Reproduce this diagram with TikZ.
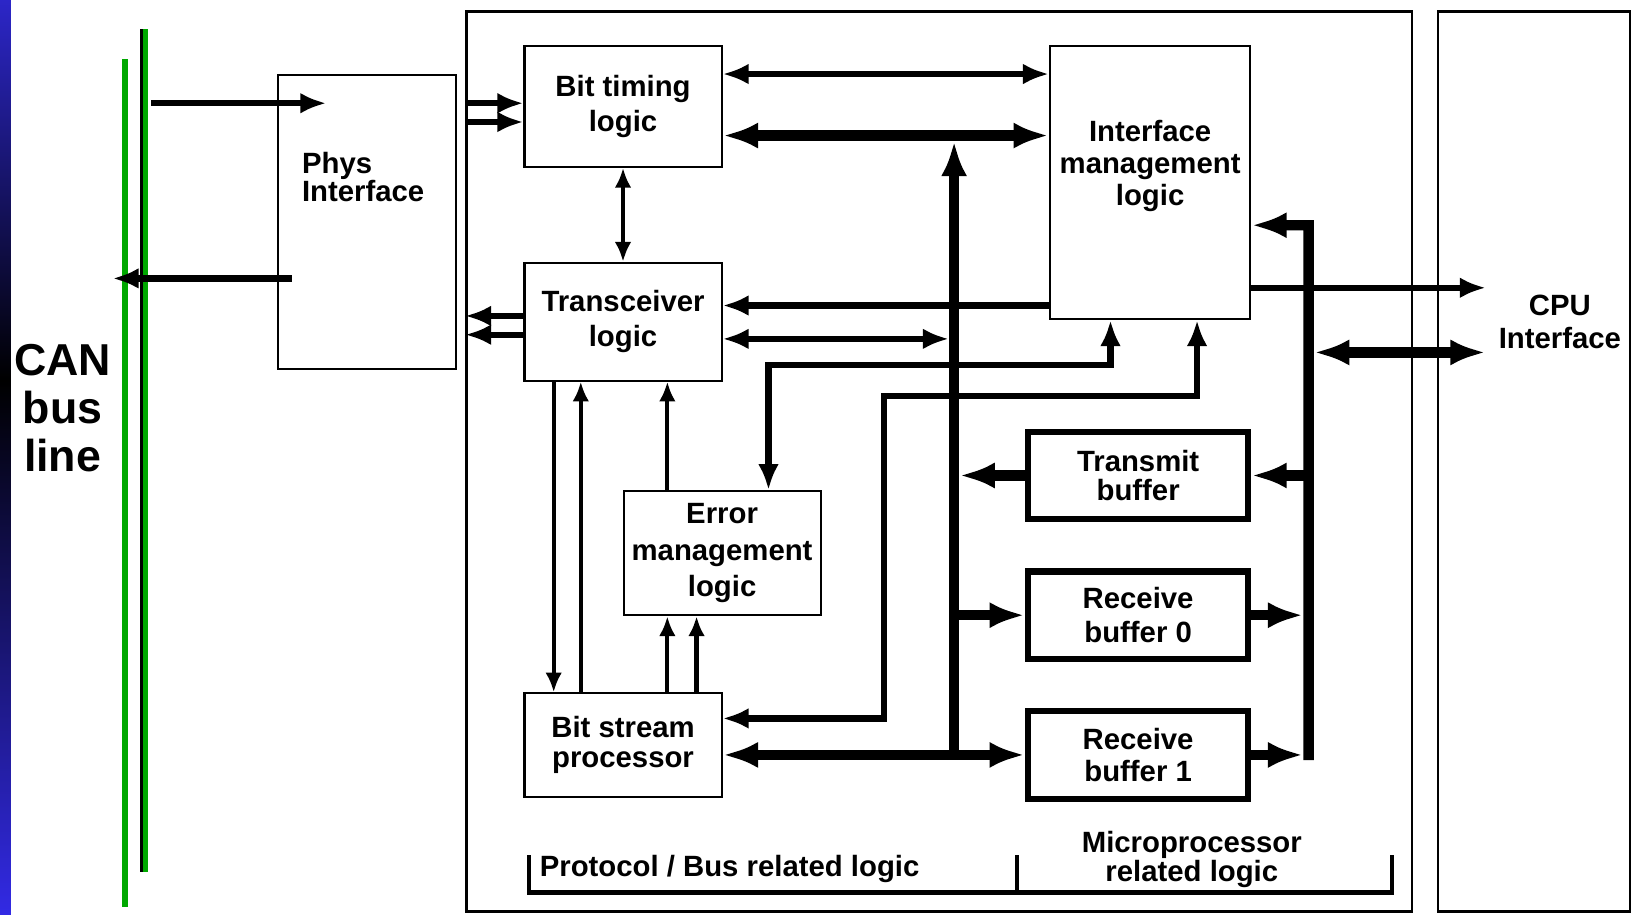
\documentclass[tikz,border=0pt]{standalone}
\usepackage{fontspec}
\setmainfont{Liberation Sans}
\usepackage{tikz}
\usetikzlibrary{arrows.meta,calc,positioning}

\definecolor{busgreen}{RGB}{0,168,0}
\definecolor{slideblue}{RGB}{44,38,200}
\definecolor{slidebluelow}{RGB}{50,42,228}

\begin{document}
\begin{tikzpicture}[
			x=0.1mm, y=-0.1mm,
			>=Latex,
			font=\fontsize{8}{9.4}\selectfont\bfseries,
			block/.style={draw, rectangle, line width=0.2mm, inner xsep=2pt, align=center},
			frame/.style={draw, rectangle, line width=0.25mm, minimum height=86.3mm},
			bufblock/.style={draw, rectangle, line width=0.6mm, minimum width=21.1mm, minimum height=8.4mm, align=center},
			thinsignal/.style={line width=0.4mm, >={Latex[length=1.9mm,width=1.6mm]}},
			signal/.style={line width=0.6mm, >={Latex[length=2.5mm,width=2mm]}},
			bussignal/.style={line width=1mm, >={Latex[length=3.4mm,width=2.5mm]}}
			]
			\useasboundingbox (0,0) rectangle (1568,877);
			
			% slide edge
			\shade[top color=slideblue, bottom color=black] (0,0) rectangle (10.5,365);
			\shade[top color=black, bottom color=slidebluelow] (0,365) rectangle (10.5,877);
			
			% CAN wires
			\coordinate (canltop) at (120,57);
			\coordinate (canlbot) at (120,870);
			\coordinate (canhtop) at (138.2,28);
			\coordinate (canhbot) at (138.2,836);
			\draw[busgreen, line width=0.6mm] (canltop) -- (canlbot);
			\draw[line width=0.77mm] (canhtop) -- (canhbot);
			\draw[busgreen, line width=0.49mm] ([xshift=0.14mm]canhtop) -- ([xshift=0.14mm]canhbot);
			\node[align=center, font=\fontsize{12.2}{13.1}\selectfont\bfseries] (can) at (60,391) {CAN\\bus\\line};
			
			\node[block, minimum width=17mm, minimum height=28.2mm, anchor=north west] (phys) at (266,71) {};
			\node[anchor=north west, align=left, inner sep=0, font=\fontsize{8}{7.7}\selectfont\bfseries] (physlbl) at (289,145) {Phys\\Interface};
			
			\node[frame, minimum width=90.7mm, anchor=north west] (proto) at (446,10) {};
			\node[frame, minimum width=18.4mm, anchor=north west] (cpu) at (1378,10) {};
			\node[align=center, font=\fontsize{8}{9.1}\selectfont\bfseries] (cputxt) at (1496,309) {CPU\\Interface};
			
			% protocol side
			\node[block, minimum width=18.9mm, minimum height=11.6mm, anchor=north west] (bt) at (502,43) {Bit timing\\logic};
			\node[block, minimum width=18.9mm, minimum height=11.3mm, below=9mm of bt] (trans) {Transceiver\\logic};
			\node[block, minimum width=18.9mm, minimum height=9.9mm, below=29.8mm of trans, font=\fontsize{8}{8}\selectfont\bfseries] (bsp) {Bit stream\\processor};
			\node[block, minimum width=18.9mm, minimum height=11.9mm, anchor=north west, font=\fontsize{8}{10}\selectfont\bfseries] (err) at (597,470) {Error\\management\\logic};
			\node[block, minimum width=19.2mm, minimum height=26.2mm, text depth=3.7mm, right=31.3mm of bt.north east, anchor=north west, font=\fontsize{8}{8.7}\selectfont\bfseries] (iml) {Interface\\management\\logic};
			
			% microprocessor side
			\node[bufblock, anchor=north west, font=\fontsize{8}{8}\selectfont\bfseries] (txb) at (983,411) {Transmit\\buffer};
			\node[bufblock, below=4.4mm of txb] (rx0) {Receive\\buffer 0};
			\node[bufblock, below=4.4mm of rx0, font=\fontsize{8}{8.6}\selectfont\bfseries] (rx1) {Receive\\buffer 1};
			
			\coordinate (lbus)    at ([xshift=-6.8mm]rx1.west);
			\coordinate (lbustop) at ([yshift=-9.2mm]bt.north -| lbus);
			\coordinate (rbustop) at ([xshift=5.5mm,yshift=-17.3mm]iml.north east);
			\coordinate (rbusbot) at ([xshift=5.5mm,yshift=-0.5mm]rx1.east);
			
			% bus wires <-> phys
			\draw[signal,->,shorten <=0.7mm] ([yshift=-2.8mm]phys.north -| canhtop) -- ([xshift=4.7mm,yshift=-2.8mm]phys.north west);
			\draw[signal,->,shorten >=-1.2mm] ([xshift=1.4mm,yshift=-19.6mm]phys.north west) -- ([yshift=-19.6mm]phys.north west -| canltop);
			
			% phys <-> protocol blocks
			\draw[signal,->] ([yshift=-5.6mm]bt.north west -| proto.west) -- ([yshift=-5.6mm]bt.north west);
			\draw[signal,->] ([yshift=-7.4mm]bt.north west -| proto.west) -- ([yshift=-7.4mm]bt.north west);
			\draw[signal,->] ([yshift=-5.2mm]trans.north west) -- ([yshift=-5.2mm]trans.north west -| proto.west);
			\draw[signal,->] ([yshift=-7mm]trans.north west) -- ([yshift=-7mm]trans.north west -| proto.west);
			
			% protocol <-> interface management
			\draw[signal,<->] ([yshift=-2.8mm]bt.north east) -- ([yshift=-2.8mm]iml.north west);
			\draw[bussignal,<->] ([yshift=-8.7mm]bt.north east) -- ([yshift=-8.7mm]iml.north west);
			\draw[thinsignal,<->] (bt.south) -- (trans.north);
			\draw[signal,->] ([yshift=-4.2mm]trans.north east -| iml.west) -- ([yshift=-4.2mm]trans.north east);
			\draw[signal,<->,shorten >=0.5mm] ([yshift=-7.4mm]trans.north east) -- ([yshift=-7.4mm]trans.north east -| lbus);
			\draw[signal,<->] ([xshift=5.9mm]iml.south west) -- ++(0,43) -| ([xshift=14mm]err.north west);
			\draw[signal,<->] ([xshift=14.2mm]iml.south west) -- ++(0,73) -- ++(-300,0) |- ([yshift=-2.5mm]bsp.north east);
			
			% internal bus
			\draw[bussignal,->] (lbus) -- (lbustop);
			\draw[bussignal,<->] (bsp.east |- rx1.west) -- (rx1.west);
			\draw[bussignal,->,shorten >=0.5mm] (txb.west) -- (txb.west -| lbus);
			\draw[bussignal,->] (rx0.west -| lbus) -- (rx0.west);
			
			% CPU side bus
			\draw[bussignal,->] (rbusbot) -- (rbustop) -- (rbustop -| iml.east);
			\draw[bussignal,->] (txb.east -| rbustop) -- (txb.east);
			\draw[bussignal,->,shorten >=0.5mm] (rx0.east) -- (rx0.east -| rbustop);
			\draw[bussignal,->,shorten >=0.5mm] (rx1.east) -- (rx1.east -| rbustop);
			\draw[signal,->] ([yshift=-23.3mm]iml.north east) -- ([yshift=-23.3mm]iml.north east -| cputxt.west);
			\draw[bussignal,<->,shorten <=0.5mm] ([yshift=-29.5mm]iml.north east -| rbustop) -- ([yshift=-29.5mm]iml.north east -| cputxt.west);
			
			% lower protocol links
			\draw[thinsignal,->] ([xshift=2.9mm]trans.south west) -- ([xshift=2.9mm]bsp.north west);
			\draw[thinsignal,->] ([xshift=5.5mm]bsp.north west) -- ([xshift=5.5mm]trans.south west);
			\draw[thinsignal,->] ([xshift=4.3mm]err.north west) -- ([xshift=4.3mm]err.north west |- trans.south);
			\draw[thinsignal,->] ([xshift=13.8mm]bsp.north west) -- ([xshift=13.8mm]bsp.north west |- err.south);
			\draw[thinsignal,->] ([xshift=16.6mm]bsp.north west) -- ([xshift=16.6mm]bsp.north west |- err.south);
			
			% region brackets
			\node[anchor=west, inner sep=0] (protolbl) at (517,833) {Protocol / Bus related logic};
			\node[align=center, font=\fontsize{8}{8}\selectfont\bfseries] (microlbl) at (1143,824) {Microprocessor\\related logic};
			\draw[line width=0.4mm] (507,820) |- (1335,856) -- (1335,820);
			\draw[line width=0.4mm] (975,820) -- (975,856);
		\end{tikzpicture}
\end{document}
